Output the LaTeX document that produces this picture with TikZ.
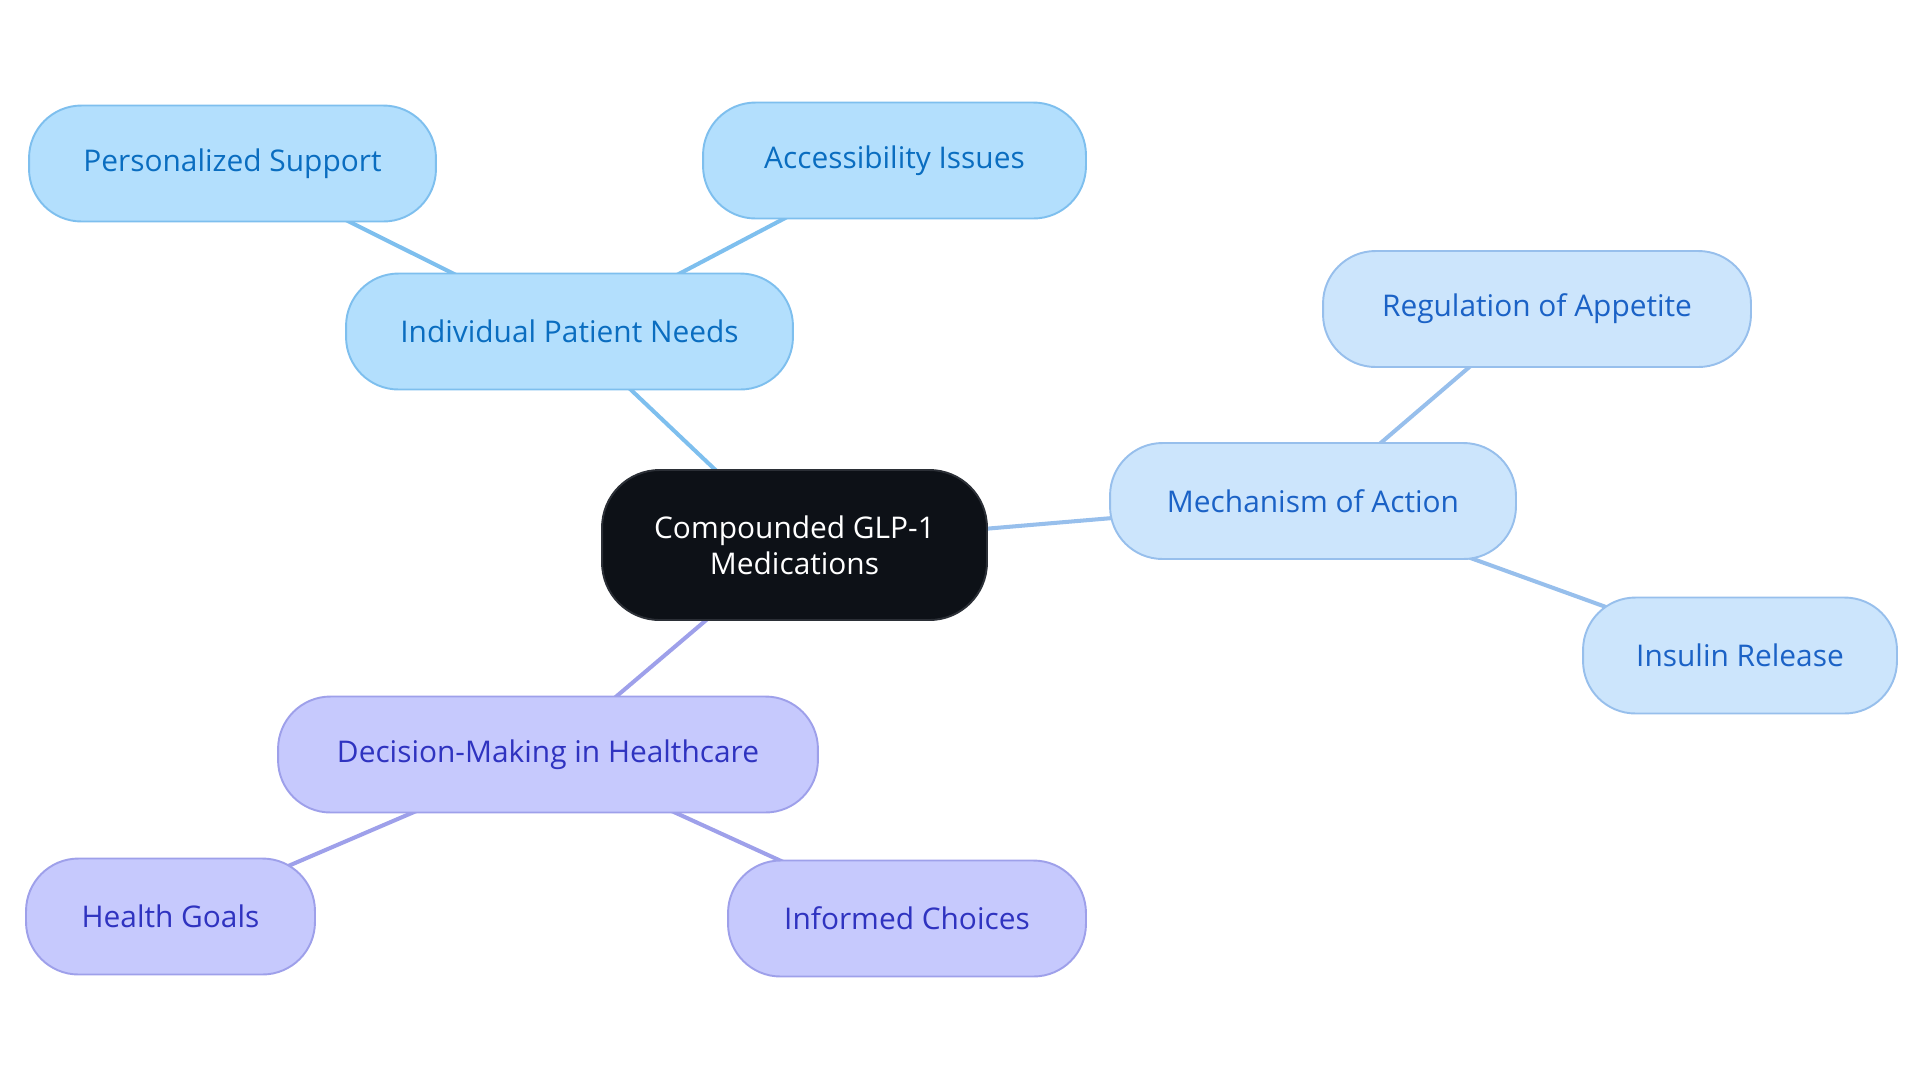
\documentclass[tikz,border=0pt]{standalone}
\usepackage{fontspec}
\setmainfont{Open Sans}
\usetikzlibrary{backgrounds}

\definecolor{rootfill}{HTML}{0D1117}
\definecolor{rootdraw}{HTML}{2B2F36}
\definecolor{needfill}{HTML}{B3DFFD}
\definecolor{needdraw}{HTML}{7EBFEE}
\definecolor{needtext}{HTML}{0A6DC0}
\definecolor{actfill}{HTML}{CCE5FC}
\definecolor{actdraw}{HTML}{97BFEC}
\definecolor{acttext}{HTML}{1B62C6}
\definecolor{choicefill}{HTML}{C6C9FD}
\definecolor{choicedraw}{HTML}{9EA0EA}
\definecolor{choicetext}{HTML}{2F33C0}

\begin{document}
\begin{tikzpicture}[x=0.02cm,y=-0.02cm,
                    box/.style={rectangle,rounded corners=1.05cm,draw,line width=1.1pt,
                      inner sep=0pt,minimum height=2.32cm,font=\fontsize{17}{20.5}\selectfont},
                    root node/.style={box,fill=rootfill,draw=rootdraw,text=white,align=center,
                      minimum width=7.7cm,minimum height=3cm,rounded corners=1.15cm},
                    need node/.style={box,fill=needfill,draw=needdraw,text=needtext},
                    act node/.style={box,fill=actfill,draw=actdraw,text=acttext},
                    choice node/.style={box,fill=choicefill,draw=choicedraw,text=choicetext},
                    link/.style={line width=2.3pt}]
  \useasboundingbox (0,0) rectangle (1920,1083);
  \node[root node] (root) at (794.5,545) {Compounded GLP-1\\Medications};
  \node[need node,minimum width=8.94cm] (needs) at (569.5,331.5) {Individual Patient Needs};
  \node[need node,minimum width=8.14cm] (support) at (232.5,163.5) {Personalized Support};
  \node[need node,minimum width=7.66cm] (access) at (894.5,160.5) {Accessibility Issues};
  \node[act node,minimum width=8.12cm] (mech) at (1313,501) {Mechanism of Action};
  \node[act node,minimum width=8.56cm] (appetite) at (1537,309) {Regulation of Appetite};
  \node[act node,minimum width=6.28cm] (insulin) at (1740,655.5) {Insulin Release};
  \node[choice node,minimum width=10.8cm] (decide) at (548,754.5) {Decision-Making in Healthcare};
  \node[choice node,minimum width=5.78cm] (goals) at (170.5,916.5) {Health Goals};
  \node[choice node,minimum width=7.16cm] (informed) at (907,918.5) {Informed Choices};
  % links run centre to centre, under the boxes
  \begin{pgfonlayer}{background}
  \path[link]
    (root.center) edge [needdraw] (needs.center)
    (needs.center) edge [needdraw] (support.center)
    (needs.center) edge [needdraw] (access.center)
    (root.center) edge [actdraw] (mech.center)
    (mech.center) edge [actdraw] (appetite.center)
    (mech.center) edge [actdraw] (insulin.center)
    (root.center) edge [choicedraw] (decide.center)
    (decide.center) edge [choicedraw] (goals.center)
    (decide.center) edge [choicedraw] (informed.center)
    ;
  \end{pgfonlayer}
\end{tikzpicture}
\end{document}
